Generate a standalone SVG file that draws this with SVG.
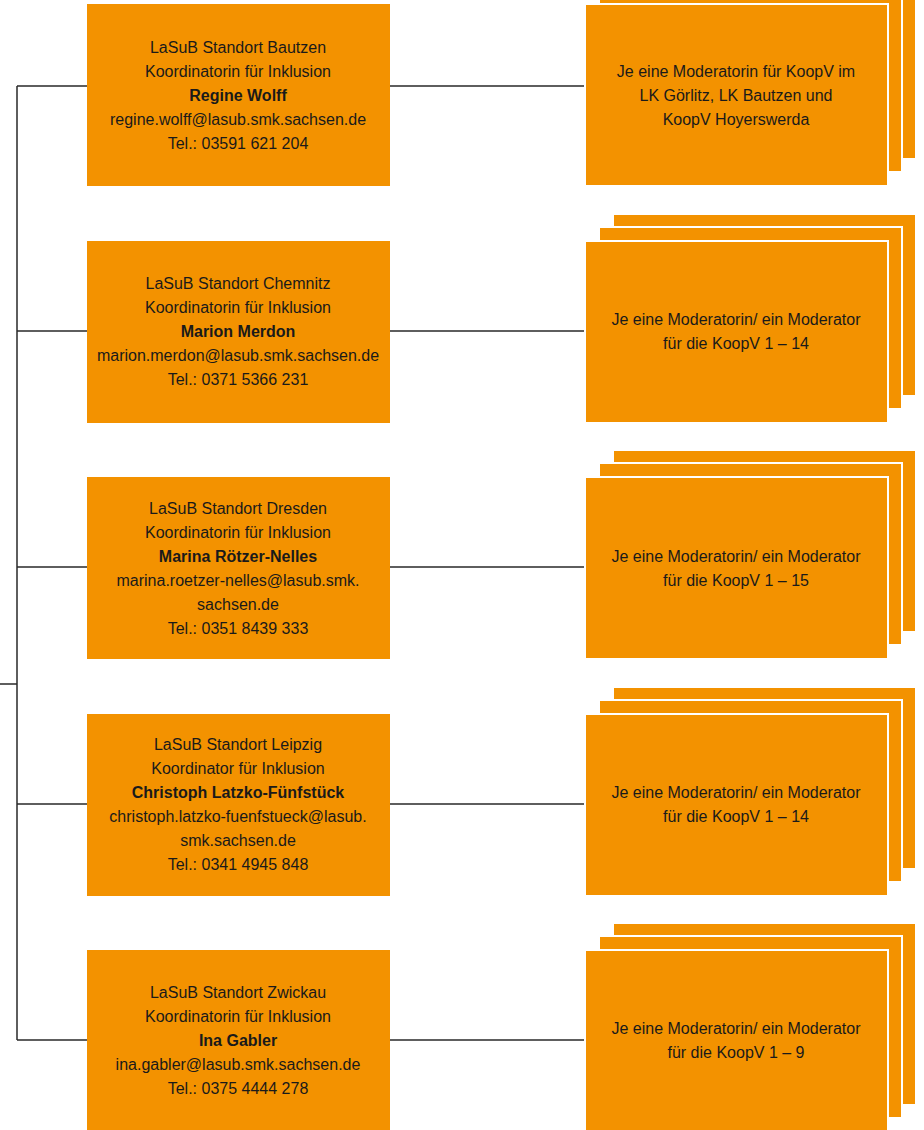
<svg xmlns="http://www.w3.org/2000/svg" width="924" height="1130" viewBox="0 0 924 1130">
<style>
.box{fill:#F39200}
.stk{fill:#F39200;stroke:#fff;stroke-width:2}
.t{font-family:"Liberation Sans",Arial,sans-serif;font-size:16px;fill:#1a1a1a;text-anchor:middle}
.b{font-weight:bold}
.c{fill:none;stroke:#2a2a2a;stroke-width:1.5}
</style>
<rect width="924" height="1130" fill="#fff"/>
<g id="connectors">
<path class="c" d="M0 684H17M17 86V1040M17 86H87M17 331H87M17 567H87M17 804H87M17 1040H87"/>
<path class="c" d="M390 86H585M390 331H585M390 567H585M390 804H585M390 1040H585"/>
</g>
<g id="n1"><rect class="box" x="87" y="4" width="303" height="182"/>
<text class="t" x="238" y="53">LaSuB Standort Bautzen</text>
<text class="t" x="238" y="77">Koordinatorin für Inklusion</text>
<text class="t b" x="238" y="101">Regine Wolff</text>
<text class="t" x="238" y="125">regine.wolff@lasub.smk.sachsen.de</text>
<text class="t" x="238" y="149">Tel.: 03591 621 204</text></g>
<g id="n2"><rect class="box" x="87" y="241" width="303" height="182"/>
<text class="t" x="238" y="289">LaSuB Standort Chemnitz</text>
<text class="t" x="238" y="313">Koordinatorin für Inklusion</text>
<text class="t b" x="238" y="337">Marion Merdon</text>
<text class="t" x="238" y="361">marion.merdon@lasub.smk.sachsen.de</text>
<text class="t" x="238" y="385">Tel.: 0371 5366 231</text></g>
<g id="n3"><rect class="box" x="87" y="477" width="303" height="182"/>
<text class="t" x="238" y="514">LaSuB Standort Dresden</text>
<text class="t" x="238" y="538">Koordinatorin für Inklusion</text>
<text class="t b" x="238" y="562">Marina Rötzer-Nelles</text>
<text class="t" x="238" y="586">marina.roetzer-nelles@lasub.smk.</text>
<text class="t" x="238" y="610">sachsen.de</text>
<text class="t" x="238" y="634">Tel.: 0351 8439 333</text></g>
<g id="n4"><rect class="box" x="87" y="714" width="303" height="182"/>
<text class="t" x="238" y="750">LaSuB Standort Leipzig</text>
<text class="t" x="238" y="774">Koordinator für Inklusion</text>
<text class="t b" x="238" y="798">Christoph Latzko-Fünfstück</text>
<text class="t" x="238" y="822">christoph.latzko-fuenfstueck@lasub.</text>
<text class="t" x="238" y="846">smk.sachsen.de</text>
<text class="t" x="238" y="870">Tel.: 0341 4945 848</text></g>
<g id="n5"><rect class="box" x="87" y="950" width="303" height="182"/>
<text class="t" x="238" y="998">LaSuB Standort Zwickau</text>
<text class="t" x="238" y="1022">Koordinatorin für Inklusion</text>
<text class="t b" x="238" y="1046">Ina Gabler</text>
<text class="t" x="238" y="1070">ina.gabler@lasub.smk.sachsen.de</text>
<text class="t" x="238" y="1094">Tel.: 0375 4444 278</text></g>
<g id="m1"><rect class="stk" x="613" y="-23" width="303" height="182"/><rect class="stk" x="599" y="-10" width="303" height="182"/><rect class="stk" x="585" y="4" width="303" height="182"/>
<text class="t" x="736" y="77">Je eine Moderatorin für KoopV im</text>
<text class="t" x="736" y="101">LK Görlitz, LK Bautzen und</text>
<text class="t" x="736" y="125">KoopV Hoyerswerda</text></g>
<g id="m2"><rect class="stk" x="613" y="214" width="303" height="182"/><rect class="stk" x="599" y="227" width="303" height="182"/><rect class="stk" x="585" y="241" width="303" height="182"/>
<text class="t" x="736" y="325">Je eine Moderatorin/ ein Moderator</text>
<text class="t" x="736" y="349">für die KoopV 1 – 14</text></g>
<g id="m3"><rect class="stk" x="613" y="450" width="303" height="182"/><rect class="stk" x="599" y="463" width="303" height="182"/><rect class="stk" x="585" y="477" width="303" height="182"/>
<text class="t" x="736" y="562">Je eine Moderatorin/ ein Moderator</text>
<text class="t" x="736" y="586">für die KoopV 1 – 15</text></g>
<g id="m4"><rect class="stk" x="613" y="687" width="303" height="182"/><rect class="stk" x="599" y="700" width="303" height="182"/><rect class="stk" x="585" y="714" width="303" height="182"/>
<text class="t" x="736" y="798">Je eine Moderatorin/ ein Moderator</text>
<text class="t" x="736" y="822">für die KoopV 1 – 14</text></g>
<g id="m5"><rect class="stk" x="613" y="923" width="303" height="182"/><rect class="stk" x="599" y="936" width="303" height="182"/><rect class="stk" x="585" y="950" width="303" height="182"/>
<text class="t" x="736" y="1034">Je eine Moderatorin/ ein Moderator</text>
<text class="t" x="736" y="1058">für die KoopV 1 – 9</text></g>
</svg>
